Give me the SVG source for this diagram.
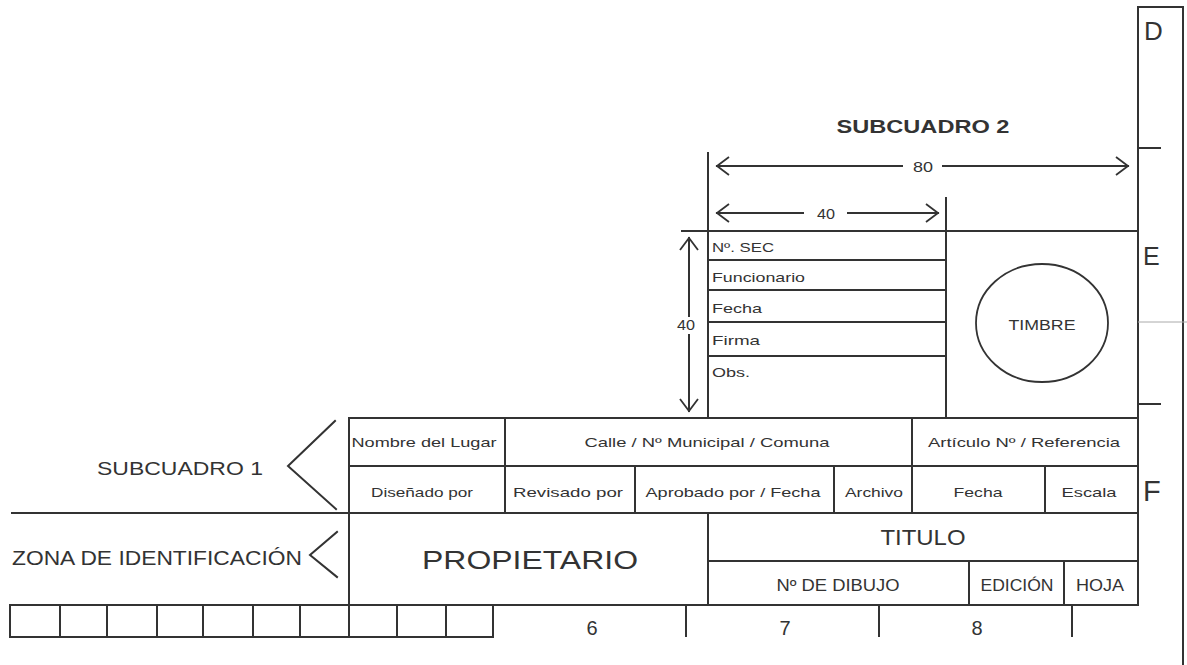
<svg xmlns="http://www.w3.org/2000/svg" width="1187" height="665" viewBox="0 0 1187 665">
<style>
.ln{stroke:#333;stroke-width:2;fill:none;stroke-linecap:square}
.th{stroke:#aaa;stroke-width:1;fill:none}
text{font-family:"Liberation Sans",Arial,sans-serif;fill:#333}
.c{text-anchor:middle}
.s13{font-size:13px}
.s16{font-size:16px}
</style>
<defs>
<marker id="open" markerUnits="userSpaceOnUse" markerWidth="18" markerHeight="24" viewBox="-15 -12 17 24" refX="0" refY="0" orient="auto-start-reverse">
<path d="M-12,-9 L0,0 L-12,9" fill="none" stroke="#333" stroke-width="1.8"/>
</marker>
</defs>
<rect width="1187" height="665" fill="#fff"/>

<g id="frame">
<line class="ln" x1="1138" y1="7" x2="1138" y2="605"/>
<line class="ln" x1="1138" y1="7" x2="1183" y2="7"/>
<line class="ln" x1="1183" y1="7" x2="1183" y2="665"/>
<line class="ln" x1="1138" y1="148" x2="1160" y2="148"/>
<line class="th" x1="1138" y1="322" x2="1187" y2="322"/>
<line class="ln" x1="1138" y1="404" x2="1160" y2="404"/>
<text x="1144" y="40" font-size="26">D</text>
<text x="1143" y="265" font-size="25">E</text>
<text x="1143" y="501" font-size="29">F</text>
</g>

<g id="subcuadro2">
<text class="c" x="923" y="133" font-size="19" font-weight="bold" textLength="173" lengthAdjust="spacingAndGlyphs">SUBCUADRO 2</text>
<line class="ln" x1="708" y1="153" x2="708" y2="418"/>
<line class="ln" x1="946" y1="198" x2="946" y2="418"/>
<line class="ln" x1="682" y1="231" x2="1138" y2="231"/>
<line class="ln" x1="708" y1="260" x2="946" y2="260"/>
<line class="ln" x1="708" y1="290" x2="946" y2="290"/>
<line class="ln" x1="708" y1="322" x2="946" y2="322"/>
<line class="ln" x1="708" y1="356" x2="946" y2="356"/>
<text class="s13" x="712" y="252" textLength="62" lengthAdjust="spacingAndGlyphs">Nº. SEC</text>
<text class="s13" x="712" y="282" textLength="93" lengthAdjust="spacingAndGlyphs">Funcionario</text>
<text class="s13" x="712" y="313" textLength="50" lengthAdjust="spacingAndGlyphs">Fecha</text>
<text class="s13" x="712" y="345" textLength="48" lengthAdjust="spacingAndGlyphs">Firma</text>
<text class="s13" x="712" y="377" textLength="38" lengthAdjust="spacingAndGlyphs">Obs.</text>
</g>

<g id="timbre">
<ellipse cx="1042" cy="323" rx="66" ry="59" fill="none" stroke="#333" stroke-width="1.8"/>
<text class="c" x="1042" y="330" font-size="14" textLength="67" lengthAdjust="spacingAndGlyphs">TIMBRE</text>
</g>

<g id="connectors">
<line class="ln" x1="717" y1="166" x2="902" y2="166" marker-start="url(#open)" stroke-width="1.8"/>
<line class="ln" x1="943" y1="166" x2="1128" y2="166" marker-end="url(#open)" stroke-width="1.8"/>
<line class="ln" x1="717" y1="213" x2="803" y2="213" marker-start="url(#open)" stroke-width="1.8"/>
<line class="ln" x1="848" y1="213" x2="938" y2="213" marker-end="url(#open)" stroke-width="1.8"/>
<line class="ln" x1="689" y1="238" x2="689" y2="316" marker-start="url(#open)" stroke-width="1.8"/>
<line class="ln" x1="689" y1="335" x2="689" y2="411" marker-end="url(#open)" stroke-width="1.8"/>
<path class="ln" d="M335,421 L288,466 L336,509" stroke-width="1.6"/>
<path class="ln" d="M337,532 L310,555 L337,577" stroke-width="1.6"/>
</g>

<g id="dims">
<text class="c" x="923" y="172" font-size="14" textLength="20" lengthAdjust="spacingAndGlyphs">80</text>
<text class="c" x="826" y="219" font-size="14" textLength="18" lengthAdjust="spacingAndGlyphs">40</text>
<text class="c" x="686" y="330" font-size="14" textLength="18" lengthAdjust="spacingAndGlyphs">40</text>
</g>

<g id="subcuadro1">
<text class="c" x="180" y="475" font-size="19" textLength="166" lengthAdjust="spacingAndGlyphs">SUBCUADRO 1</text>
<line class="ln" x1="349" y1="418" x2="1138" y2="418"/>
<line class="ln" x1="349" y1="466" x2="1138" y2="466"/>
<line class="ln" x1="349" y1="418" x2="349" y2="637"/>
<line class="ln" x1="505" y1="418" x2="505" y2="513"/>
<line class="ln" x1="912" y1="418" x2="912" y2="513"/>
<line class="ln" x1="635" y1="466" x2="635" y2="513"/>
<line class="ln" x1="834" y1="466" x2="834" y2="513"/>
<line class="ln" x1="1045" y1="466" x2="1045" y2="513"/>
<text class="c s13" x="424" y="447" textLength="145" lengthAdjust="spacingAndGlyphs">Nombre del Lugar</text>
<text class="c s13" x="707" y="447" textLength="245" lengthAdjust="spacingAndGlyphs">Calle / Nº Municipal / Comuna</text>
<text class="c s13" x="1024" y="447" textLength="192" lengthAdjust="spacingAndGlyphs">Artículo Nº / Referencia</text>
<text class="c s13" x="422" y="497" textLength="102" lengthAdjust="spacingAndGlyphs">Diseñado por</text>
<text class="c s13" x="568" y="497" textLength="110" lengthAdjust="spacingAndGlyphs">Revisado por</text>
<text class="c s13" x="733" y="497" textLength="175" lengthAdjust="spacingAndGlyphs">Aprobado por / Fecha</text>
<text class="c s13" x="874" y="497" textLength="58" lengthAdjust="spacingAndGlyphs">Archivo</text>
<text class="c s13" x="978" y="497" textLength="49" lengthAdjust="spacingAndGlyphs">Fecha</text>
<text class="c s13" x="1089" y="497" textLength="55" lengthAdjust="spacingAndGlyphs">Escala</text>
</g>

<g id="zona">
<text x="12" y="565" font-size="21" textLength="290" lengthAdjust="spacingAndGlyphs">ZONA DE IDENTIFICACIÓN</text>
<line class="ln" x1="12" y1="513" x2="1138" y2="513"/>
<line class="ln" x1="708" y1="513" x2="708" y2="605"/>
<line class="ln" x1="708" y1="561" x2="1138" y2="561"/>
<line class="ln" x1="969" y1="561" x2="969" y2="605"/>
<line class="ln" x1="1064" y1="561" x2="1064" y2="605"/>
<text class="c" x="530" y="569" font-size="26" textLength="216" lengthAdjust="spacingAndGlyphs">PROPIETARIO</text>
<text class="c" x="923" y="545" font-size="22" textLength="85" lengthAdjust="spacingAndGlyphs">TITULO</text>
<text class="c s16" x="838" y="591" textLength="123" lengthAdjust="spacingAndGlyphs">Nº DE DIBUJO</text>
<text class="c s16" x="1017" y="591" textLength="73" lengthAdjust="spacingAndGlyphs">EDICIÓN</text>
<text class="c s16" x="1100" y="591" textLength="48" lengthAdjust="spacingAndGlyphs">HOJA</text>
</g>

<g id="grid">
<line class="ln" x1="10" y1="605" x2="1138" y2="605"/>
<line class="ln" x1="10" y1="637" x2="493" y2="637"/>
<path class="ln" d="M10,605V637M60,605V637M107,605V637M157,605V637M203,605V637M253,605V637M300,605V637M397,605V637M446,605V637M493,605V637M686,605V636M879,605V636M1072,605V636"/>
<text class="c" x="592" y="635" font-size="20">6</text>
<text class="c" x="785" y="635" font-size="20">7</text>
<text class="c" x="977" y="635" font-size="20">8</text>
</g>
</svg>
